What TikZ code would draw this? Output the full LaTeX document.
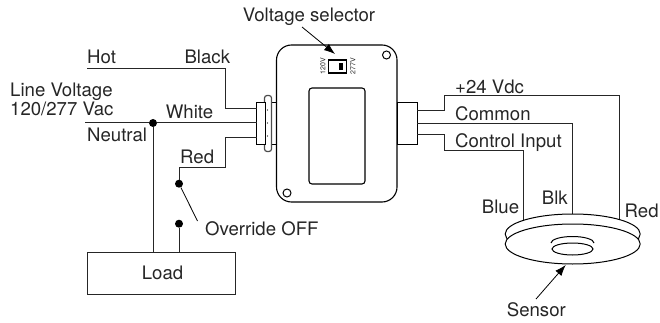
\documentclass[tikz,border=0pt]{standalone}
\usepackage{fontspec}
\setmainfont{TeX Gyre Heros}
\usetikzlibrary{arrows.meta,positioning,calc}

\begin{document}
\begin{tikzpicture}[
    x=1pt, y=-1pt,
    every node/.style={font=\fontsize{18.6}{19}\selectfont, inner sep=0pt, text=black!85},
    wire/.style={draw=black!85, line width=1pt},
    module/.style={rectangle, draw, line width=1.1pt, rounded corners=15pt, minimum width=120.5pt, minimum height=157pt},
    window/.style={rectangle, draw, line width=1.1pt, rounded corners=3pt, minimum width=56pt, minimum height=96pt},
    hole/.style={circle, draw, line width=1pt, minimum size=8pt},
    collar/.style={rectangle, draw, line width=1pt, minimum height=42pt},
    pin/.style={circle, fill=black, minimum size=8pt},
    rivet/.style={circle, fill=black, minimum size=1.2pt},
    tinytext/.style={font=\fontsize{7}{8}\selectfont, rotate=90},
    label/.style={anchor=base west},
    callout/.style={draw, line width=0.8pt, -{Latex[length=11pt,width=8pt]}}
]
\useasboundingbox (0,0) rectangle (660,323);

% Control module
\node[module] (module) at (336.75,123.5) {};
\node[window] (window) at (337,136) {};
\node[hole] (hole_top) at (386.5,55) {};
\node[hole] (hole_bot) at (287,193) {};

% Voltage switch
\node[rectangle, draw, line width=1.2pt, minimum width=18pt, minimum height=13pt] (switch) at (337.5,66.5) {};
\node[rectangle, fill=black, minimum width=4.5pt, minimum height=7.5pt] (slider) at (341,66.5) {};
\node[tinytext, anchor=south] (sw_low) at (325.7,66.5) {120V};
\node[tinytext, anchor=north] (sw_high) at (350,66.5) {277V};

% Connectors
\node[collar, minimum width=5.5pt] (lcollar) at (273.7,124) {};
\node[collar, rounded corners=2.5pt, draw=black!70, fill=white, line width=1.2pt, minimum width=7pt, minimum height=56pt] (lring) at (268,123.5) {};
\node[collar, minimum width=8.5pt, fill=white] (lconn) at (260.75,124) {};
\node[collar, minimum width=20pt] (rconn) at (407,124) {};
\node[rivet] (rivet_a) at (267.5,110) {};
\node[rivet] (rivet_b) at (267.5,123) {};
\node[rivet] (rivet_c) at (267.5,136) {};

% Load
\node[rectangle, wire, minimum width=148pt, minimum height=42pt] (load) at (161,273) {};
\node[anchor=base] (load_txt) at (162.5,279) {Load};

% Wire ends and turns
\coordinate (hot_end) at (87,68.5);
\coordinate (neutral_end) at (85,123);
\coordinate (black_in) at (256.5,109);
\coordinate (white_in) at (256.5,123);
\coordinate (red_in) at (256.5,138);
\coordinate (black_turn) at (225.5,68.5);
\coordinate (red_turn) at (225.5,167.5);
\coordinate (vdc_out) at (417,111);
\coordinate (com_out) at (417,123.3);
\coordinate (ctl_out) at (417,135);
\coordinate (vdc_turn) at (444.7,95.7);
\coordinate (ctl_turn) at (444.7,151);
\coordinate (blue_in) at (523.7,220);
\coordinate (blk_in) at (572,214);
\coordinate (red_out) at (619.7,219);

% Line side
\node[pin] (tap) at (153,123) {};
\node[pin] (sw_a) at (179,183.7) {};
\node[pin] (sw_b) at (179,223.7) {};
\draw[wire] (hot_end) -- (black_turn) |- (black_in);
\draw[wire] (neutral_end) -- (tap) -- (white_in);
\draw[wire] (red_in) -| (red_turn) -| (sw_a);
\draw[wire] (tap) -- (tap |- load.north);
\draw[wire] (sw_b) -- (sw_b |- load.north);
\coordinate (lever_end) at (197.5,221);
\draw[line width=0.8pt] (sw_a) -- (lever_end);

% Sensor side
\draw[wire] (vdc_out) -| (vdc_turn) -| (red_out);
\draw[wire] (com_out) -| (blk_in);
\draw[wire] (ctl_out) -| (ctl_turn) -| (blue_in);

% Sensor
\coordinate (sensor_c) at (572.7,244);
\coordinate (lens_c) at (572.5,249);
\draw[line width=1pt] ($(sensor_c)+(0,-10)$) ellipse[x radius=67.5, y radius=20];
\draw[line width=1pt, fill=white] (sensor_c) ellipse[x radius=67.5, y radius=20];
\draw[line width=1pt] (lens_c) ellipse[x radius=20.5, y radius=6];
\draw[line width=1pt] ($(lens_c)+(-21.5,-6)$) arc[start angle=180, end angle=0, x radius=21.5, y radius=-6.5];

% Labels
\node[anchor=base] (selector_txt) at (309,21.7) {Voltage selector};
\node[label] (hot_txt) at (87,63.3) {Hot};
\node[label] (black_txt) at (184.3,63.3) {Black};
\node[anchor=west, align=left] (line_txt) at (10,99) {Line Voltage\\120/277 Vac};
\node[label] (white_txt) at (165.7,118.3) {White};
\node[label] (neutral_txt) at (87,141.7) {Neutral};
\node[label] (red_txt) at (180,164) {Red};
\node[label] (override_txt) at (205,235) {Override OFF};
\node[label] (vdc_txt) at (455,94) {+24 Vdc};
\node[label] (com_txt) at (455,120.7) {Common};
\node[label] (ctl_txt) at (455,147.7) {Control Input};
\node[label] (blue_txt) at (481.7,213.3) {Blue};
\node[label] (blk_txt) at (541.7,204) {Blk};
\node[label] (redw_txt) at (624.5,217.7) {Red};
\node[label] (sensor_txt) at (506.7,316.7) {Sensor};

% Callouts
\coordinate (selector_tail) at (302,27);
\coordinate (selector_tip) at (335,54);
\coordinate (sensor_tail) at (536,299);
\coordinate (sensor_tip) at (565.7,265);
\draw[callout] (selector_tail) -- (selector_tip);
\draw[callout] (sensor_tail) -- (sensor_tip);

\end{tikzpicture}
\end{document}
